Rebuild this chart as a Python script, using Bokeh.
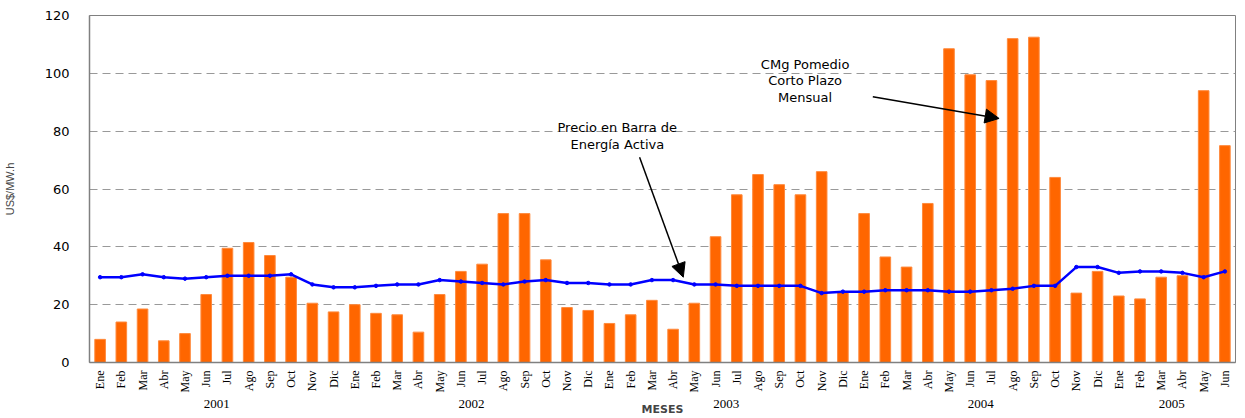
from bokeh.plotting import figure
from bokeh.models import (ColumnDataSource, FixedTicker, Label, Arrow, NormalHead, Range1d, LinearAxis)
from bokeh.embed import file_html
from bokeh.resources import INLINE

# ---- data ----
month_names = ["Ene", "Feb", "Mar", "Abr", "May", "Jun", "Jul", "Ago", "Sep", "Oct", "Nov", "Dic"]
years = ["2001", "2002", "2003", "2004", "2005"]
months_per_year = [12, 12, 12, 12, 6]
months = []
for n in months_per_year:
    months += month_names[:n]

cmg = [8, 14, 18.5, 7.5, 10, 23.5, 39.5, 41.5, 37, 29.5, 20.5, 17.5,
       20, 17, 16.5, 10.5, 23.5, 31.5, 34, 51.5, 51.5, 35.5, 19, 18,
       13.5, 16.5, 21.5, 11.5, 20.5, 43.5, 58, 65, 61.5, 58, 66, 24.5,
       51.5, 36.5, 33, 55, 108.5, 99.5, 97.5, 112, 112.5, 64, 24, 31.5,
       23, 22, 29.5, 30, 94, 75]

precio_barra = [29.5, 29.5, 30.5, 29.5, 29, 29.5, 30, 30, 30, 30.5, 27, 26,
                26, 26.5, 27, 27, 28.5, 28, 27.5, 27, 28, 28.5, 27.5, 27.5,
                27, 27, 28.5, 28.5, 27, 27, 26.5, 26.5, 26.5, 26.5, 24, 24.5,
                24.5, 25, 25, 25, 24.5, 24.5, 25, 25.5, 26.5, 26.5, 33, 33,
                31, 31.5, 31.5, 31, 29.5, 31.5]

y_ticks = [0, 20, 40, 60, 80, 100, 120]

x = list(range(len(months)))
src = ColumnDataSource(dict(x=x, cmg=cmg, pb=precio_barra))

p = figure(width=1237, height=418, output_backend="svg", toolbar_location=None,
           x_range=Range1d(-0.5, len(months) - 0.5), y_range=Range1d(0, 120),
           min_border_left=80, min_border_right=2, min_border_top=15, min_border_bottom=56)

p.vbar(x="x", top="cmg", width=0.5, source=src, fill_color="#FF6600", line_color="#FF8A3D", line_width=1)
p.line(x="x", y="pb", source=src, line_color="#0000FF", line_width=2.5)
p.scatter(x="x", y="pb", source=src, size=3.5, fill_color="#0000FF", line_color="#0000FF")

p.outline_line_color = "#808080"
p.outline_line_width = 1
p.background_fill_color = "white"
p.border_fill_color = "white"

# x axis (months)
p.xaxis.ticker = FixedTicker(ticks=x)
p.xaxis.major_label_overrides = {i: m for i, m in enumerate(months)}
p.xaxis.major_label_orientation = 1.5708
p.xaxis.major_label_text_font = "Liberation Serif"
p.xaxis.major_label_text_font_size = "12px"
p.xaxis.major_label_text_color = "black"
p.xaxis.major_label_standoff = 2
p.xaxis.major_tick_line_color = None
p.xaxis.minor_tick_line_color = None
p.xaxis.axis_line_color = "#808080"
p.xaxis.axis_line_width = 1.5
p.xgrid.grid_line_color = None

# year axis with MESES label
year_centers = []
start = 0
for n in months_per_year:
    year_centers.append(start + (n - 1) / 2)
    start += n
yax = LinearAxis(ticker=FixedTicker(ticks=year_centers),
                 major_label_overrides={c: yr for c, yr in zip(year_centers, years)})
yax.major_label_text_font = "Liberation Serif"
yax.major_label_text_font_size = "13px"
yax.major_label_text_color = "black"
yax.major_label_standoff = -2
yax.major_tick_line_color = None
yax.minor_tick_line_color = None
yax.axis_line_color = None
yax.axis_label = "MESES"
yax.axis_label_text_font = "DejaVu Sans"
yax.axis_label_text_font_style = "bold"
yax.axis_label_text_font_size = "11px"
yax.axis_label_standoff = -8
p.add_layout(yax, "below")

# y axis
p.yaxis.ticker = FixedTicker(ticks=y_ticks)
p.yaxis.major_label_text_font = "DejaVu Sans"
p.yaxis.major_label_text_font_size = "13px"
p.yaxis.major_label_text_color = "black"
p.yaxis.major_label_standoff = 14
p.yaxis.major_tick_line_color = None
p.yaxis.minor_tick_line_color = None
p.yaxis.axis_line_color = "#808080"
p.yaxis.axis_line_width = 1.5
p.yaxis.axis_label = "US$/MW.h"
p.yaxis.axis_label_text_font = "Liberation Sans"
p.yaxis.axis_label_text_font_style = "normal"
p.yaxis.axis_label_text_font_size = "11px"
p.yaxis.axis_label_standoff = 26
p.ygrid.grid_line_color = "#999999"
p.ygrid.grid_line_dash = "8 5"
p.ygrid.grid_line_width = 1

# annotations
for i, t in enumerate(["Precio en Barra de", "Energía Activa"]):
    p.add_layout(Label(x=24.37, y=[81.1, 75.5][i], text=t, text_font="DejaVu Sans", text_font_size="13px",
                       text_align="center", text_baseline="middle", text_color="black"))
for i, t in enumerate(["CMg Pomedio", "Corto Plazo", "Mensual"]):
    p.add_layout(Label(x=33.22, y=[103.2, 97.4, 91.6][i], text=t, text_font="DejaVu Sans", text_font_size="13px",
                       text_align="center", text_baseline="middle", text_color="black"))

p.add_layout(Arrow(x_start=25.42, y_start=71.0, x_end=27.48, y_end=29.5, line_width=1.5, line_color="black",
                   end=NormalHead(size=14, fill_color="black", line_color="black")))
p.add_layout(Arrow(x_start=36.41, y_start=91.9, x_end=42.36, y_end=84.4, line_width=1.5, line_color="black",
                   end=NormalHead(size=14, fill_color="black", line_color="black")))

open("out.html", "w").write(file_html(p, INLINE))
